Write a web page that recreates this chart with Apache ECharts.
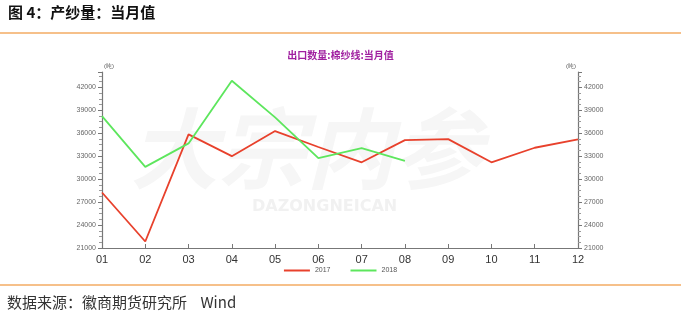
<!DOCTYPE html>
<html><head><meta charset="utf-8">
<script src="https://cdn.jsdelivr.net/npm/echarts@6/dist/echarts.min.js"></script>
<style>html,body{margin:0;padding:0;background:#fff;}#c{width:681px;height:320px;}</style>
</head><body><div id="c"></div>
<script>
var months = ['01','02','03','04','05','06','07','08','09','10','11','12'];
var s2017 = [28250, 21850, 35850, 33000, 36280, 34200, 32200, 35100, 35230, 32200, 34100, 35200];
var s2018 = [38240, 31600, 34670, 42860, 38070, 32740, 34050, 32400];
var seriesNames = ['2017', '2018'];
var yMin = 21000, yMax = 44000, yStep = 3000;

var chart = echarts.init(document.getElementById('c'));
var axisCol = '#777';
function yAxisCfg(pos) {
  return {
    type: 'value', position: pos, min: yMin, max: yMax, interval: yStep,
    name: '(吨)', nameLocation: 'end', nameGap: 3,
    nameTextStyle: { fontSize: 6, color: '#555', align: pos === 'left' ? 'left' : 'right', padding: pos === 'left' ? [0,0,0,2] : [0,2,0,0] },
    axisLine: { show: true, lineStyle: { color: axisCol, width: 1.2 } },
    axisTick: { show: true, length: 4, lineStyle: { color: axisCol } },
    minorTick: { show: true, splitNumber: 4, length: 3, lineStyle: { color: '#999' } },
    axisLabel: { fontSize: 7, color: '#666', margin: 6, showMaxLabel: false, fontFamily: 'Liberation Sans',
      formatter: function (v) { return String(v); } },
    splitLine: { show: false }
  };
}
chart.setOption({
  animation: false,
  backgroundColor: '#fff',
  graphic: [
    { type: 'text', left: 8, top: 5, style: { text: '图 4：产纱量：当月值', font: 'bold 15px "Noto Sans CJK SC"', fill: '#111' } },
    { type: 'rect', shape: { x: 0, y: 32, width: 681, height: 2 }, style: { fill: '#f6c08a' } },
    { type: 'rect', shape: { x: 0, y: 284, width: 681, height: 2 }, style: { fill: '#f6c08a' } },
    { type: 'text', left: 7, top: 295, style: { text: '数据来源：徽商期货研究所    Wind', font: '15px "Noto Sans CJK SC"', fill: '#333' } },
    { type: 'text', x: 130, y: 105, z: -1, silent: true, style: { text: '大宗内参', font: 'italic bold 88px "Noto Sans CJK SC"', fill: '#f6f6f6' } },
    { type: 'text', x: 252, y: 199, z: -1, silent: true, style: { text: 'DAZONGNEICAN', font: 'bold 16px "DejaVu Sans"', fill: '#f1f1f1' } }
  ],
  title: {
    text: '出口数量:棉纱线:当月值', left: 'center', top: 45,
    textStyle: { fontSize: 10, fontWeight: 'bold', color: '#a020a0', fontFamily: 'Noto Sans CJK SC' }
  },
  legend: {
    bottom: 41, left: 'center', itemWidth: 26, itemHeight: 2, itemGap: 20,
    icon: 'rect',
    textStyle: { fontSize: 7, color: '#555' },
    data: seriesNames
  },
  grid: { left: 102, right: 103, top: 72, bottom: 72 },
  xAxis: {
    type: 'category', data: months, boundaryGap: false,
    axisLine: { lineStyle: { color: axisCol, width: 1.2 } },
    axisTick: { show: true, inside: true, length: 4, lineStyle: { color: axisCol } },
    axisLabel: { fontSize: 11, color: '#333', margin: 6, fontFamily: 'Liberation Sans' }
  },
  yAxis: [yAxisCfg('left'), yAxisCfg('right')],
  series: [
    { name: seriesNames[0], type: 'line', data: s2017, symbol: 'none', color: '#e8412c', lineStyle: { width: 1.8, color: '#e8412c' } },
    { name: seriesNames[1], type: 'line', data: s2018, symbol: 'none', color: '#5de65d', lineStyle: { width: 1.8, color: '#5de65d' } }
  ]
});
</script></body></html>
